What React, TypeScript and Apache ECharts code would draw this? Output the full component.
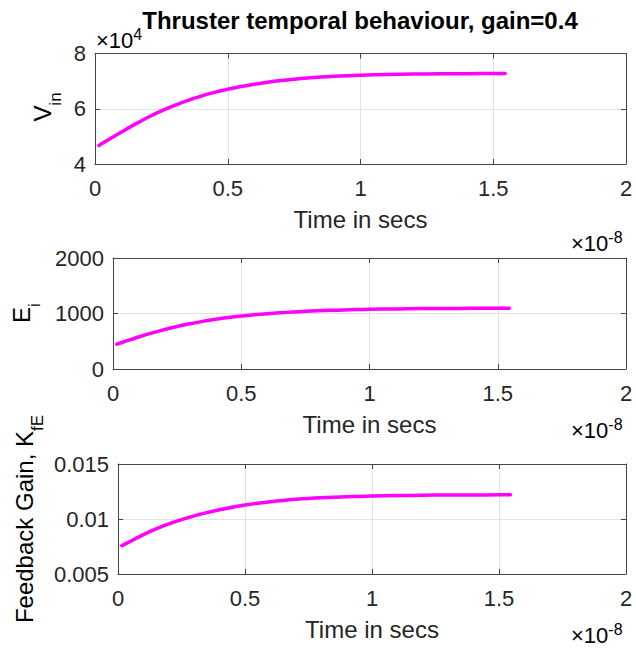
import React, { useEffect, useRef } from "react";
import * as echarts from "echarts";

// Time samples, in units of 1e-8 s
const timeE8 = [
  0.015, 0.05, 0.1, 0.15, 0.2, 0.25, 0.3, 0.35, 0.4, 0.45, 0.5, 0.55, 0.6, 0.65,
  0.7, 0.75, 0.8, 0.85, 0.9, 0.95, 1.0, 1.1, 1.2, 1.3, 1.4, 1.5, 1.545,
];

// Inlet voltage V_in
const vIn = [
  46700, 48770, 51620, 54340, 56910, 59210, 61250, 63030, 64580, 65910, 67060,
  68030, 68880, 69610, 70220, 70720, 71130, 71470, 71750, 71980, 72160, 72420,
  72570, 72650, 72700, 72730, 72740,
];

// Ion energy E_i
const eI = [
  447, 501, 577, 647, 710, 766, 815, 858, 895, 927, 954, 977, 996, 1013, 1027,
  1039, 1049, 1057, 1064, 1070, 1075, 1083, 1088, 1091, 1093, 1094, 1094,
];

// Feedback gain K_fE
const kFE = [
  0.00757, 0.00798, 0.00858, 0.0091, 0.00955, 0.00994, 0.01028, 0.01058,
  0.01084, 0.01107, 0.01127, 0.01143, 0.01157, 0.01169, 0.01179, 0.01187,
  0.011935, 0.011985, 0.012025, 0.012055, 0.01208, 0.01213, 0.01216, 0.01218,
  0.01219, 0.012195, 0.0122,
];

const xTicks = [0, 0.5, 1, 1.5, 2];
const vInTicks = [40000, 60000, 80000];
const eITicks = [0, 1000, 2000];
const kFETicks = [0.005, 0.01, 0.015];

const FONT = "'Liberation Sans', Arial, Helvetica, sans-serif";
const AXIS_COLOR = "#454545";
const TEXT_COLOR = "#262626";
const GRID_COLOR = "#e2e2e2";
const LINE_COLOR = "#ff00ff";

const grids = [
  { left: 95, top: 53.5, width: 531, height: 110.5 },
  { left: 113, top: 258, width: 513, height: 111 },
  { left: 118, top: 464, width: 508, height: 110 },
];

function pairs(ys: number[]) {
  return timeE8.map((t, i) => [t, ys[i]]);
}

function fmtNum(v: number) {
  return String(+v.toFixed(6));
}

export default function App() {
  const ref = useRef<HTMLDivElement>(null);

  useEffect(() => {
    if (!ref.current) return;
    const chart = echarts.init(ref.current, null, { renderer: "svg" });

    const yTickSets = [vInTicks, eITicks, kFETicks];
    const yFormatters = [
      (v: number) => fmtNum(v / 1e4),
      (v: number) => fmtNum(v),
      (v: number) => fmtNum(v),
    ];

    const xAxes: any[] = [];
    const yAxes: any[] = [];
    grids.forEach((_, g) => {
      const ticks = yTickSets[g];
      // bottom axis with labels and name
      xAxes.push({
        type: "value",
        gridIndex: g,
        position: "bottom",
        min: xTicks[0],
        max: xTicks[xTicks.length - 1],
        interval: xTicks[1] - xTicks[0],
        name: "Time in secs",
        nameLocation: "middle",
        nameGap: 43,
        nameTextStyle: { fontFamily: FONT, fontSize: 24, color: TEXT_COLOR },
        axisLine: { show: true, onZero: false, lineStyle: { color: AXIS_COLOR, width: 1 } },
        axisTick: { show: true, inside: true, length: 5, lineStyle: { color: AXIS_COLOR } },
        axisLabel: {
          fontFamily: FONT,
          fontSize: 22,
          color: TEXT_COLOR,
          margin: 13,
          formatter: (v: number) => fmtNum(v),
        },
        splitLine: { show: true, lineStyle: { color: GRID_COLOR, width: 1 } },
      });
      // top box edge
      xAxes.push({
        type: "value",
        gridIndex: g,
        position: "top",
        min: xTicks[0],
        max: xTicks[xTicks.length - 1],
        interval: xTicks[1] - xTicks[0],
        axisLine: { show: true, onZero: false, lineStyle: { color: AXIS_COLOR, width: 1 } },
        axisTick: { show: true, inside: true, length: 5, lineStyle: { color: AXIS_COLOR } },
        axisLabel: { show: false },
        splitLine: { show: false },
      });
      // left axis with labels
      yAxes.push({
        type: "value",
        gridIndex: g,
        position: "left",
        min: ticks[0],
        max: ticks[ticks.length - 1],
        interval: ticks[1] - ticks[0],
        axisLine: { show: true, onZero: false, lineStyle: { color: AXIS_COLOR, width: 1 } },
        axisTick: { show: true, inside: true, length: 5, lineStyle: { color: AXIS_COLOR } },
        axisLabel: {
          fontFamily: FONT,
          fontSize: 22,
          color: TEXT_COLOR,
          margin: 9,
          formatter: yFormatters[g],
        },
        splitLine: { show: true, lineStyle: { color: GRID_COLOR, width: 1 } },
      });
      // right box edge
      yAxes.push({
        type: "value",
        gridIndex: g,
        position: "right",
        min: ticks[0],
        max: ticks[ticks.length - 1],
        interval: ticks[1] - ticks[0],
        axisLine: { show: true, onZero: false, lineStyle: { color: AXIS_COLOR, width: 1 } },
        axisTick: { show: true, inside: true, length: 5, lineStyle: { color: AXIS_COLOR } },
        axisLabel: { show: false },
        splitLine: { show: false },
      });
    });

    const seriesData = [vIn, eI, kFE];
    const series = seriesData.map((ys, g) => ({
      type: "line",
      xAxisIndex: g * 2,
      yAxisIndex: g * 2,
      data: pairs(ys),
      showSymbol: false,
      smooth: 0.3,
      lineStyle: { color: LINE_COLOR, width: 3.5, cap: "round", join: "round" },
      z: 5,
    }));

    const supRich = {
      a: { fontFamily: FONT, fontSize: 22, lineHeight: 28, color: TEXT_COLOR },
      b: { fontFamily: FONT, fontSize: 16, lineHeight: 14, verticalAlign: "top", color: TEXT_COLOR },
    };
    const subRich = {
      m: { fontFamily: FONT, fontSize: 24, lineHeight: 44, color: TEXT_COLOR },
      s: { fontFamily: FONT, fontSize: 17, lineHeight: 14, verticalAlign: "bottom", color: TEXT_COLOR },
    };

    const exponentLabel = (y: number) => ({
      type: "text",
      x: 571,
      y,
      style: {
        text: "{a|×10}{b|-8}",
        rich: supRich,
        align: "left",
        verticalAlign: "middle",
      },
    });

    const yLabel = (x: number, y: number, main: string, sub: string) => ({
      type: "text",
      x,
      y,
      rotation: Math.PI / 2,
      style: {
        text: `{m|${main}}{s|${sub}}`,
        rich: subRich,
        align: "center",
        verticalAlign: "middle",
      },
    });

    chart.setOption({
      animation: false,
      backgroundColor: "#ffffff",
      grid: grids.map((g) => ({ ...g, containLabel: false })),
      xAxis: xAxes,
      yAxis: yAxes,
      series,
      graphic: [
        {
          type: "text",
          x: 360,
          y: 20,
          style: {
            text: "Thruster temporal behaviour, gain=0.4",
            fontFamily: FONT,
            fontSize: 24,
            fontWeight: "bold",
            fill: "#000000",
            align: "center",
            verticalAlign: "middle",
          },
        },
        {
          type: "text",
          x: 96,
          y: 40,
          style: {
            text: "{a|×10}{b|4}",
            rich: supRich,
            align: "left",
            verticalAlign: "middle",
          },
        },
        exponentLabel(243),
        exponentLabel(430),
        exponentLabel(635),
        yLabel(42, 107, "V", "in"),
        yLabel(21, 313, "E", "i"),
        yLabel(24, 519, "Feedback Gain, K", "fE"),
      ],
    });

    return () => chart.dispose();
  }, []);

  return (
    <div
      ref={ref}
      style={{ position: "absolute", left: 0, top: 0, width: 636, height: 649, background: "#fff" }}
    />
  );
}
